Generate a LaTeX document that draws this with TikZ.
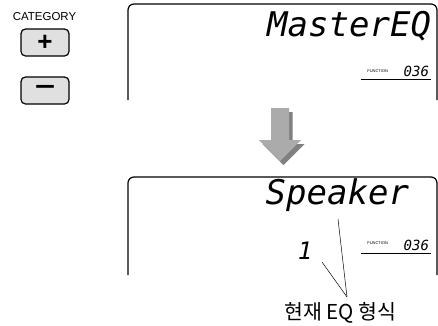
\documentclass[tikz,border=0pt]{standalone}
\usepackage{fontspec}
\setmainfont{Liberation Sans}
\newfontfamily\lcdfont{DejaVu Sans Mono}
\newfontfamily\krfont{Noto Sans CJK KR}
\usetikzlibrary{positioning}
\definecolor{arrowfront}{gray}{0.67}
\definecolor{arrowshade}{gray}{0.50}
\definecolor{keyfill}{gray}{0.88}

\begin{document}
\begin{tikzpicture}[
    x=1pt, y=-1pt,
    every node/.style={inner sep=0pt, outer sep=0pt},
    panel/.style={line width=1.2pt, rounded corners=6pt},
    keybox/.style={draw, line width=1.2pt, rounded corners=4.5pt, fill=keyfill, minimum width=48pt, minimum height=27pt},
    lcdbig/.style={font=\lcdfont\itshape\fontsize{34}{34}\selectfont, anchor=base east},
    lcdnum/.style={font=\lcdfont\itshape\fontsize{14}{14}\selectfont, anchor=base east},
    fnlabel/.style={font=\fontsize{4}{4}\selectfont, anchor=base east},
    callout/.style={line width=0.5pt}
]
\useasboundingbox (0,0) rectangle (438,325);

\node[font=\fontsize{11.5}{11.5}\selectfont, anchor=base] (cat) at (44.5,20) {CATEGORY};
\node[keybox] (plus) at (45,42.5) {\fontsize{26}{26}\selectfont\textbf{+}};
\node[keybox] (minus) at (45,90.5) {\fontsize{26}{26}\selectfont\scalebox{1.35}[1]{\textbf{−}}};

\draw[panel] (128,100) -- (128,4) -- (437,4) -- (437,100);
\node[lcdbig] (master) at (431,36) {MasterEQ};
\node[lcdnum] (fnum1) at (429,76.5) {036};
\node[fnlabel] (fn1) at (388,72.5) {FUNCTION};
\draw[line width=0.9pt] (361,79) -- (431,79);

\fill[arrowshade, shift={(3.5,4)}] (271,108) -- (289,108) -- (289,140) -- (301,140) -- (280,161) -- (259,140) -- (271,140) -- cycle;
\fill[arrowfront] (271,108) -- (289,108) -- (289,140) -- (301,140) -- (280,161) -- (259,140) -- (271,140) -- cycle;

\draw[panel] (128,275) -- (128,177) -- (437,177) -- (437,275);
\node[lcdbig] (speaker) at (409,204) {Speaker};
\node[font=\lcdfont\itshape\fontsize{24}{24}\selectfont, anchor=base] (eqval) at (305,259) {1};
\node[lcdnum] (fnum2) at (429,250) {036};
\node[fnlabel] (fn2) at (388,244) {FUNCTION};
\draw[line width=0.9pt] (361,253) -- (431,253);

\node[font=\krfont\fontsize{20.5}{20.5}\selectfont, anchor=base] (eqtype) at (340.5,319.5) {현재 EQ 형식};
\coordinate (tip) at (347,297);
\coordinate (spk) at (338,219);
\coordinate (one) at (322,262);
\draw[callout] (tip) -- (spk);
\draw[callout] (tip) -- (one);
\end{tikzpicture}
\end{document}
